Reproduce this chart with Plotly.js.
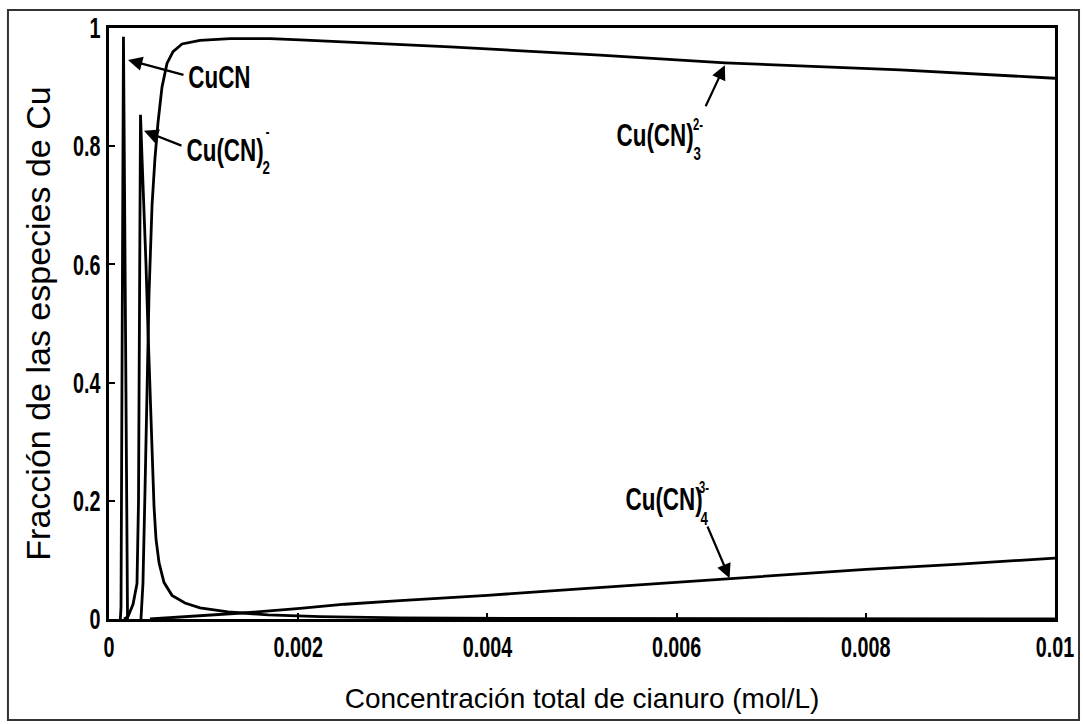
<!DOCTYPE html>
<html>
<head>
<meta charset="utf-8">
<script src="https://cdn.plot.ly/plotly-3.0.1.min.js"></script>
<style>
  html, body { margin: 0; padding: 0; background: #ffffff; }
  #chart { width: 1083px; height: 724px; }
</style>
</head>
<body>
<div id="chart"></div>
<script>
// Fracción de cada especie de Cu(I) frente a la concentración total de cianuro (mol/L)

// CuCN
const cucnX = [0.000120, 0.000127, 0.000153, 0.000196];
const cucnY = [0, 0.02, 0.985, 0];

// Cu(CN)2-
const cn2X = [0.000159, 0.000201, 0.000254, 0.000296, 0.000312, 0.000322, 0.000333,
              0.000349, 0.000370, 0.000391, 0.000412, 0.000433, 0.000455, 0.000476,
              0.000497, 0.000529, 0.000581, 0.000666, 0.000803, 0.000962, 0.001258,
              0.001681, 0.002230, 0.003076, 0.004345, 0.006000, 0.010000];
const cn2Y = [0, 0.004, 0.025, 0.060, 0.200, 0.600, 0.853,
              0.780, 0.700, 0.600, 0.490, 0.380, 0.280, 0.190,
              0.135, 0.095, 0.062, 0.040, 0.027, 0.019, 0.012,
              0.007, 0.004, 0.002, 0.001, 0.0005, 0.0002];

// Cu(CN)3 2-
const cn3X = [0.000338, 0.000359, 0.000381, 0.000402, 0.000423, 0.000455, 0.000486,
              0.000518, 0.000560, 0.000613, 0.000677, 0.000772, 0.000962, 0.001279,
              0.001702, 0.002019, 0.003605, 0.005190, 0.006512, 0.008362, 0.010000];
const cn3Y = [0, 0.06, 0.22, 0.40, 0.55, 0.70, 0.78,
              0.84, 0.90, 0.94, 0.96, 0.973, 0.979, 0.982,
              0.982, 0.980, 0.968, 0.954, 0.941, 0.929, 0.915];

// Cu(CN)4 3-
const cn4X = [0.000433, 0.000962, 0.001490, 0.002020, 0.002495, 0.003076, 0.004000,
              0.004979, 0.005994, 0.006565, 0.008002, 0.008996, 0.010000];
const cn4Y = [0, 0.005, 0.011, 0.018, 0.025, 0.031, 0.040,
              0.051, 0.062, 0.069, 0.084, 0.093, 0.103];

// Ejes
const xTickVals = [0, 0.002, 0.004, 0.006, 0.008, 0.01];
const xTickText = ['0', '0.002', '0.004', '0.006', '0.008', '0.01'];
const yTickVals = [0, 0.2, 0.4, 0.6, 0.8, 1];
const yTickText = ['0', '0.2', '0.4', '0.6', '0.8', '1'];

const BOLD = "'Liberation Sans', Arial, sans-serif";
const REGULAR = "'Liberation Sans', Arial, sans-serif";

const lineStyle = { color: '#000000', width: 2.8 };
const mk = (x, y, name) => ({
  x: x, y: y, name: name, type: 'scatter', mode: 'lines',
  line: lineStyle, hoverinfo: 'skip', showlegend: false
});

const traces = [
  mk(cucnX, cucnY, 'CuCN'),
  mk(cn2X, cn2Y, 'Cu(CN)2-'),
  mk(cn3X, cn3Y, 'Cu(CN)3 2-'),
  mk(cn4X, cn4Y, 'Cu(CN)4 3-')
];

const labelFont = { family: BOLD, size: 32, color: '#000000', weight: 700 };
const subFont = { family: BOLD, size: 19, color: '#000000', weight: 700 };
const supFont = { family: BOLD, size: 16, color: '#000000', weight: 700 };

const txt = (text, x, y, font) => ({
  x: x, y: y, xref: 'x', yref: 'y', text: text, showarrow: false,
  xanchor: 'center', yanchor: 'middle', font: font
});
const arrow = (tx, ty, hx, hy) => ({
  x: hx, y: hy, ax: tx, ay: ty, xref: 'x', yref: 'y', axref: 'x', ayref: 'y',
  text: '', showarrow: true, arrowhead: 2, arrowsize: 1.3, arrowwidth: 2.2,
  arrowcolor: '#000000', standoff: 0, startstandoff: 0
});

const annotations = [
  txt('CuCN', 0.001173, 0.917, labelFont),
  arrow(0.000803, 0.920, 0.000201, 0.946),

  txt('Cu(CN)', 0.001226, 0.7936, labelFont),
  txt('2', 0.00167, 0.7640, subFont),
  txt('-', 0.00168, 0.8257, supFont),
  arrow(0.000782, 0.800, 0.000370, 0.826),

  txt('Cu(CN)', 0.005772, 0.819, labelFont),
  txt('3', 0.006226, 0.7885, subFont),
  txt('2-', 0.006226, 0.836, supFont),
  arrow(0.00630, 0.865, 0.00651, 0.937),

  txt('Cu(CN)', 0.005867, 0.203, labelFont),
  txt('4', 0.00629, 0.1709, subFont),
  txt('3-', 0.00629, 0.222, supFont),
  arrow(0.00632, 0.159, 0.00656, 0.069)
];

// Marco exterior de la figura
const shapes = [{
  type: 'rect', xref: 'paper', yref: 'paper',
  x0: -0.1068, x1: 1.0254, y0: -0.1710, y1: 1.0305,
  line: { color: '#333333', width: 2 }, fillcolor: 'rgba(0,0,0,0)', layer: 'below'
}];

const layout = {
  width: 1083, height: 724,
  margin: { l: 109, r: 28, t: 28, b: 105 },
  paper_bgcolor: '#ffffff', plot_bgcolor: '#ffffff',
  showlegend: false,
  xaxis: {
    range: [0, 0.0100001], tickvals: xTickVals, ticktext: xTickText,
    showgrid: false, zeroline: false,
    showline: true, mirror: true, linecolor: '#000000', linewidth: 2.8,
    ticks: 'inside', ticklen: 6, tickwidth: 2, tickcolor: '#000000',
    ticklabelstandoff: 0, ticklabeloverflow: 'allow',
    tickfont: { family: BOLD, size: 29, color: '#000000', weight: 700 },
    title: { text: 'Concentración total de cianuro (mol/L)', standoff: 27,
             font: { family: REGULAR, size: 28, color: '#000000' } }
  },
  yaxis: {
    range: [0, 1], tickvals: yTickVals, ticktext: yTickText,
    showgrid: false, zeroline: false,
    showline: true, mirror: true, linecolor: '#000000', linewidth: 2.8,
    ticks: 'inside', ticklen: 6, tickwidth: 2, tickcolor: '#000000',
    ticklabelstandoff: 0, ticklabeloverflow: 'allow',
    tickfont: { family: BOLD, size: 29, color: '#000000', weight: 700 },
    title: { text: 'Fracción de las especies de Cu', standoff: 0,
             font: { family: REGULAR, size: 34, color: '#000000' } }
  },
  annotations: annotations,
  shapes: shapes
};

// Letra condensada: se comprime el ancho de los textos en negrita
function condense(selector, factor) {
  document.querySelectorAll(selector).forEach(function (t) {
    const w = t.getComputedTextLength();
    if (w > 0) {
      t.setAttribute('textLength', (w * factor).toFixed(1));
      t.setAttribute('lengthAdjust', 'spacingAndGlyphs');
    }
  });
}

Plotly.newPlot('chart', traces, layout, { staticPlot: true, displayModeBar: false })
  .then(function () {
    condense('#chart .xtick text, #chart .ytick text', 0.68);
    condense('#chart .annotation-text', 0.70);
  });
</script>
</body>
</html>
